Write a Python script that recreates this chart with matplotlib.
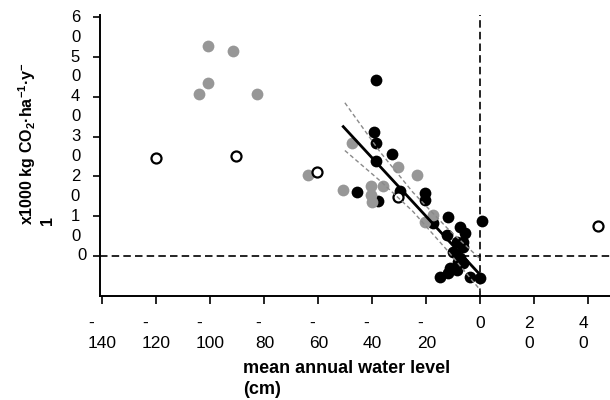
import matplotlib
matplotlib.use('Agg')
import matplotlib.pyplot as plt
import matplotlib.transforms as mtransforms

plt.rcParams['font.family'] = ['Liberation Sans', 'DejaVu Sans']
plt.rcParams['mathtext.fontset'] = 'custom'
plt.rcParams['mathtext.rm'] = 'Liberation Sans'
plt.rcParams['mathtext.bf'] = 'Liberation Sans:bold'

# water level (cm) vs emission (x1000 kg CO2/ha/y)
black_x = [-38.7, -39.4, -38.7, -32.9, -38.7, -45.6, -37.8, -29.8, -20.5, -20.5,
           -17.4, -11.9, -7.6, -5.7, -12.5, -8.8, -6.4, -6.3, -10.0, -8.3,
           -7.6, -6.3, -11.3, -8.8, -15.0, -11.9, -3.9, -0.1, 0.5]
black_y = [44.2, 31.2, 28.3, 25.6, 23.9, 16.0, 13.9, 16.3, 15.8, 14.1,
           8.2, 9.9, 7.4, 5.7, 5.3, 3.6, 3.5, 2.3, 1.1, -1.5,
           -0.6, -1.8, -3.0, -3.5, -5.2, -4.3, -5.2, -5.6, 8.9]

gray_x = [-100.9, -91.6, -100.9, -104.2, -82.7, -63.9, -50.9, -47.7, -30.4, -23.4,
          -40.5, -40.6, -36.0, -40.3, -17.4, -20.5]
gray_y = [52.8, 51.5, 43.5, 40.7, 40.7, 20.4, 16.6, 28.5, 22.4, 20.4,
          17.6, 15.3, 17.6, 13.6, 10.3, 8.5]

open_x = [-120.2, -90.5, -60.6, -30.6, 43.6]
open_y = [24.6, 25.1, 21.1, 14.9, 7.5]

# regression line and its confidence band
fit_x = [-50.8, 0.0]
fit_y = [32.5, -4.8]
band_x = [-50.2, -37.0, -25.0, -12.0, 0.0]
band_upper = [38.5, 26.0, 16.0, 6.8, -0.8]
band_lower = [26.5, 18.8, 11.2, 1.2, -8.6]

x_ticks = [-140, -120, -100, -80, -60, -40, -20, 0, 20, 40]
x_ticklabels = ['-\n140', '-\n120', '-\n100', '-\n80', '-\n60', '-\n40', '-\n20',
                '0', '2\n0', '4\n0']
y_ticks = [0, 10, 20, 30, 40, 50, 60]
y_ticklabels = ['0', '1\n0', '2\n0', '3\n0', '4\n0', '5\n0', '6\n0']

W, H = 610, 400
fig = plt.figure(figsize=(W / 100, H / 100), dpi=100)
ax = fig.add_axes([100 / W, 104 / H, 510 / W, 281 / H])

ax.scatter(black_x, black_y, s=72, color='black', linewidths=0, zorder=3)
ax.scatter(gray_x, gray_y, s=72, color='#979797', linewidths=0, zorder=3)
ax.scatter(open_x, open_y, s=52, facecolor='white', edgecolor='black',
           linewidths=1.6, zorder=4)

ax.plot(fit_x, fit_y, color='black', lw=2.0, zorder=5)
ax.plot(band_x, band_upper, color='#8a8a8a', lw=1.0, ls=(0, (3, 2)), zorder=5)
ax.plot(band_x, band_lower, color='#8a8a8a', lw=1.0, ls=(0, (3, 2)), zorder=5)

ax.axhline(0, color='black', lw=1.2, ls=(0, (4.5, 2.5)), zorder=2)
ax.axvline(0, color='black', lw=1.2, ls=(0, (4.5, 2.5)), zorder=2)

ax.set_xlim(-140.9, 48.0)
ax.set_ylim(-10.05, 60.55)

for side in ['top', 'right']:
    ax.spines[side].set_visible(False)
for side in ['left', 'bottom']:
    ax.spines[side].set_linewidth(1.4)

ax.set_xticks(x_ticks)
ax.set_yticks(y_ticks)
ax.set_xticklabels([])
ax.set_yticklabels([])
ax.tick_params(axis='x', direction='out', length=6, width=1.2)
ax.tick_params(axis='y', direction='out', length=5, width=1.2)

# wrapped tick labels, as in the original
tx = mtransforms.blended_transform_factory(ax.transData, fig.transFigure)
for v, lab in zip(x_ticks, x_ticklabels):
    shift = -1.9 if v > 0 else 0.0
    ax.text(v + shift, (H - 316) / H, lab, transform=tx, ha='center', va='top',
            multialignment='left', fontsize=12.5, linespacing=1.4)

ty = mtransforms.blended_transform_factory(fig.transFigure, ax.transData)
for v, lab in zip(y_ticks, y_ticklabels):
    if v == 0:
        ax.text(82 / W, v, lab, transform=ty, ha='center', va='center', fontsize=12)
    else:
        # first line sits on the tick, second line half a step below
        ax.text(75.5 / W, v - 2.5, lab, transform=ty, ha='center', va='center',
                multialignment='left', fontsize=12, linespacing=1.4)

fig.text(243 / W, (H - 360) / H, 'mean annual water level\n(cm)', ha='left', va='top',
         fontsize=13, fontweight='bold', linespacing=1.3)
fig.text(35.5 / W, (H - 143.5) / H,
         'x1000 kg CO$\\mathbf{_2}$·ha$^{\\mathbf{-1}}$·y$^{\\mathbf{-}}$\n1',
         rotation=90, ha='center', va='center', multialignment='left',
         fontsize=11.5, fontweight='bold', linespacing=1.2)

fig.savefig('out.png', dpi=100)
